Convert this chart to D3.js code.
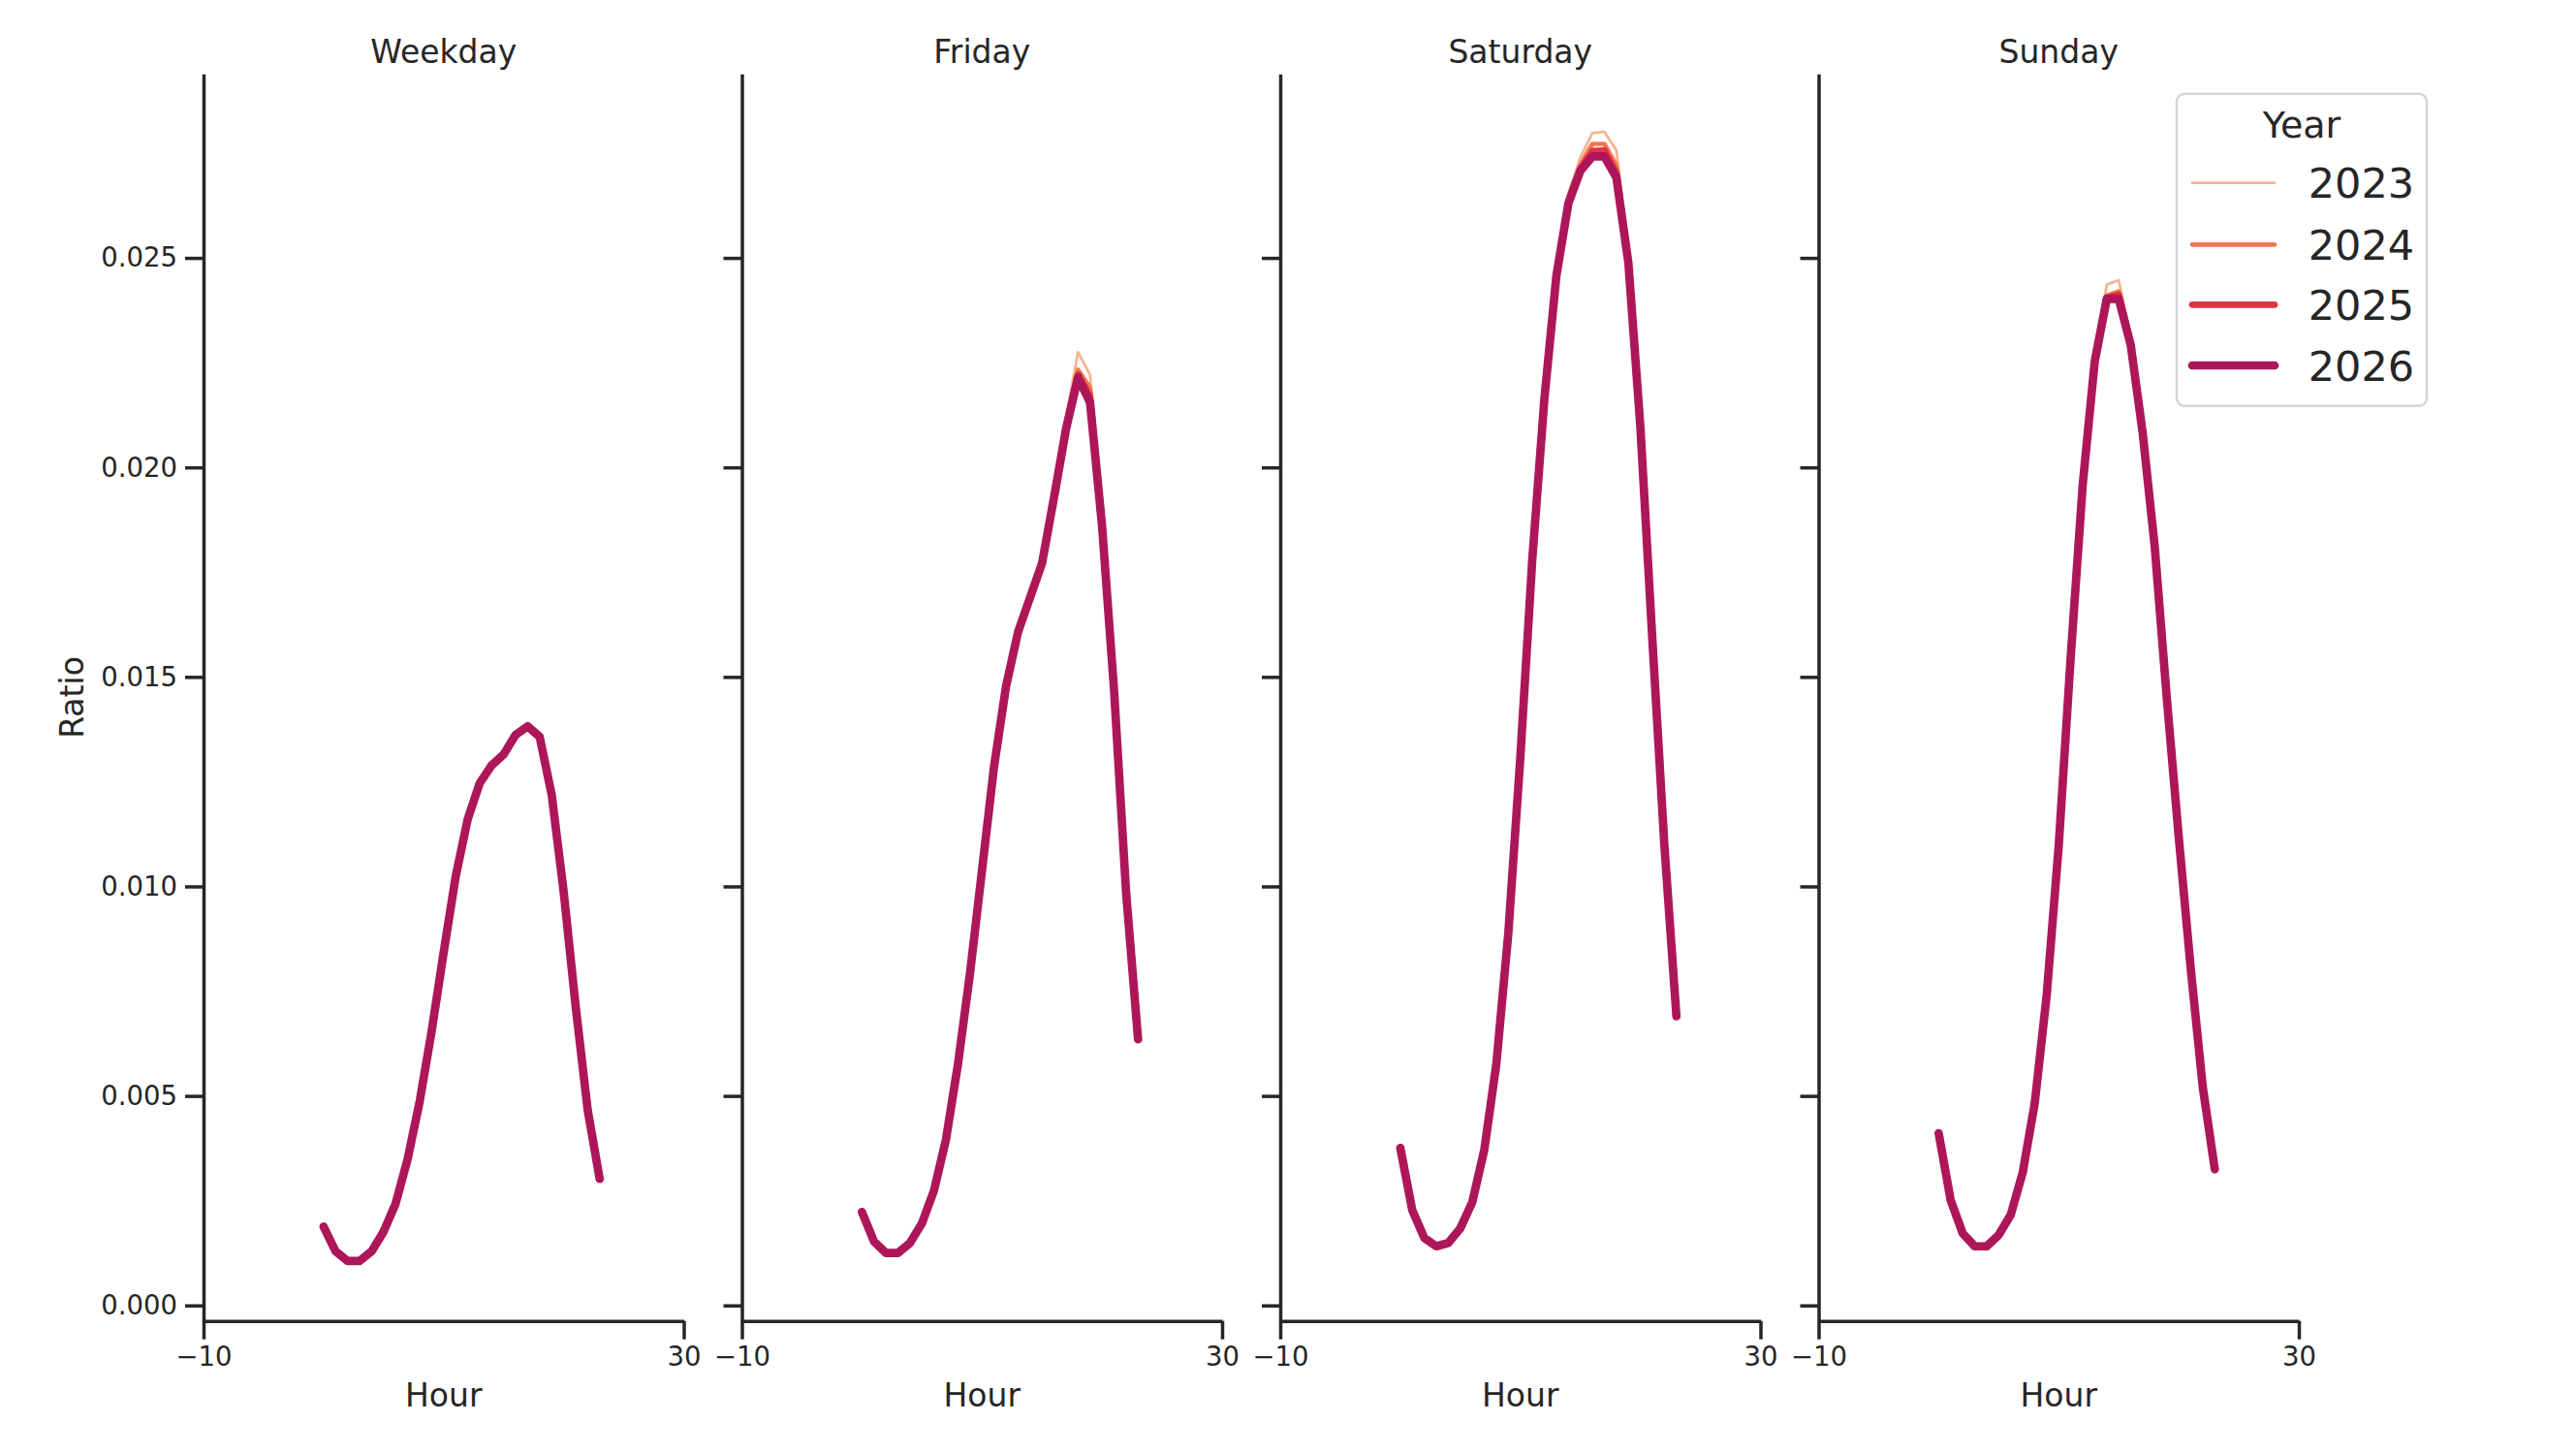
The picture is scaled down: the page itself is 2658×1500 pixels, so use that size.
<!DOCTYPE html>
<html>
<head>
<meta charset="utf-8">
<script src="https://cdn.jsdelivr.net/npm/d3@7"></script>
<style>
  body { margin: 0; background: #fff; }
  text { font-family: "DejaVu Sans", sans-serif; fill: #262626; }
</style>
</head>
<body>
<div id="chart"></div>
<script>
var hours = d3.range(0, 24);
var days = ['Weekday', 'Friday', 'Saturday', 'Sunday'];
var years = ['2023', '2024', '2025', '2026'];
var yTicks = [0, 0.005, 0.01, 0.015, 0.02, 0.025];
var xTicks = [-10, 30];

// ratio per hour, one array per day and year
var weekday2023 = [0.00189, 0.00130, 0.00107, 0.00106, 0.00129, 0.00176, 0.00244, 0.00350, 0.00487, 0.00655, 0.00843, 0.01024, 0.01162, 0.01248, 0.01291, 0.01318, 0.01366, 0.01389, 0.01362, 0.01222, 0.00989, 0.00714, 0.00467, 0.00302];
var weekday2024 = [0.00188, 0.00129, 0.00106, 0.00106, 0.00129, 0.00176, 0.00243, 0.00349, 0.00486, 0.00654, 0.00842, 0.01023, 0.01161, 0.01247, 0.01290, 0.01316, 0.01364, 0.01386, 0.01360, 0.01220, 0.00988, 0.00713, 0.00466, 0.00302];
var weekday2025 = [0.00188, 0.00129, 0.00106, 0.00106, 0.00129, 0.00176, 0.00243, 0.00349, 0.00486, 0.00654, 0.00842, 0.01023, 0.01160, 0.01246, 0.01289, 0.01315, 0.01363, 0.01384, 0.01358, 0.01219, 0.00987, 0.00713, 0.00466, 0.00302];
var weekday2026 = [0.00188, 0.00129, 0.00106, 0.00106, 0.00129, 0.00176, 0.00243, 0.00349, 0.00486, 0.00654, 0.00842, 0.01023, 0.01160, 0.01246, 0.01289, 0.01315, 0.01362, 0.01382, 0.01357, 0.01219, 0.00987, 0.00713, 0.00466, 0.00302];

var friday2023 = [0.00224, 0.00154, 0.00126, 0.00125, 0.00149, 0.00197, 0.00275, 0.00397, 0.00577, 0.00794, 0.01041, 0.01289, 0.01482, 0.01613, 0.01696, 0.01780, 0.01942, 0.02120, 0.02275, 0.02221, 0.01895, 0.01485, 0.00995, 0.00638];
var friday2024 = [0.00223, 0.00153, 0.00125, 0.00125, 0.00149, 0.00196, 0.00274, 0.00396, 0.00576, 0.00793, 0.01039, 0.01287, 0.01479, 0.01609, 0.01692, 0.01775, 0.01934, 0.02104, 0.02233, 0.02190, 0.01876, 0.01476, 0.00990, 0.00636];
var friday2025 = [0.00223, 0.00153, 0.00125, 0.00125, 0.00149, 0.00196, 0.00274, 0.00396, 0.00576, 0.00792, 0.01038, 0.01286, 0.01478, 0.01608, 0.01690, 0.01773, 0.01931, 0.02097, 0.02222, 0.02170, 0.01867, 0.01471, 0.00988, 0.00635];
var friday2026 = [0.00223, 0.00153, 0.00125, 0.00125, 0.00149, 0.00196, 0.00274, 0.00396, 0.00576, 0.00792, 0.01038, 0.01285, 0.01477, 0.01607, 0.01689, 0.01771, 0.01928, 0.02092, 0.02215, 0.02155, 0.01861, 0.01469, 0.00987, 0.00635];

var saturday2023 = [0.00377, 0.00228, 0.00162, 0.00141, 0.00149, 0.00185, 0.00248, 0.00373, 0.00578, 0.00893, 0.01316, 0.01795, 0.02180, 0.02475, 0.02655, 0.02740, 0.02798, 0.02801, 0.02757, 0.02510, 0.02110, 0.01595, 0.01101, 0.00692];
var saturday2024 = [0.00376, 0.00227, 0.00161, 0.00141, 0.00149, 0.00184, 0.00247, 0.00372, 0.00577, 0.00891, 0.01312, 0.01788, 0.02170, 0.02466, 0.02642, 0.02722, 0.02772, 0.02772, 0.02720, 0.02498, 0.02102, 0.01591, 0.01099, 0.00691];
var saturday2025 = [0.00376, 0.00227, 0.00161, 0.00141, 0.00149, 0.00184, 0.00247, 0.00372, 0.00576, 0.00890, 0.01310, 0.01785, 0.02166, 0.02461, 0.02635, 0.02712, 0.02755, 0.02757, 0.02703, 0.02492, 0.02098, 0.01589, 0.01098, 0.00690];
var saturday2026 = [0.00376, 0.00227, 0.00161, 0.00141, 0.00149, 0.00184, 0.00247, 0.00372, 0.00576, 0.00889, 0.01309, 0.01783, 0.02163, 0.02457, 0.02630, 0.02708, 0.02742, 0.02742, 0.02692, 0.02488, 0.02096, 0.01587, 0.01097, 0.00690];

var sunday2023 = [0.00412, 0.00252, 0.00173, 0.00142, 0.00141, 0.00168, 0.00217, 0.00318, 0.00484, 0.00744, 0.01102, 0.01556, 0.01972, 0.02270, 0.02436, 0.02447, 0.02312, 0.02092, 0.01816, 0.01454, 0.01120, 0.00805, 0.00522, 0.00326];
var sunday2024 = [0.00411, 0.00251, 0.00172, 0.00141, 0.00141, 0.00168, 0.00216, 0.00317, 0.00483, 0.00742, 0.01099, 0.01551, 0.01964, 0.02260, 0.02410, 0.02420, 0.02300, 0.02085, 0.01812, 0.01452, 0.01118, 0.00804, 0.00521, 0.00325];
var sunday2025 = [0.00411, 0.00251, 0.00172, 0.00141, 0.00141, 0.00168, 0.00216, 0.00317, 0.00482, 0.00741, 0.01098, 0.01549, 0.01961, 0.02256, 0.02405, 0.02412, 0.02296, 0.02083, 0.01811, 0.01451, 0.01117, 0.00803, 0.00521, 0.00325];
var sunday2026 = [0.00411, 0.00251, 0.00172, 0.00141, 0.00141, 0.00168, 0.00216, 0.00317, 0.00482, 0.00741, 0.01097, 0.01548, 0.01959, 0.02253, 0.02402, 0.02402, 0.02292, 0.02081, 0.01810, 0.01450, 0.01117, 0.00803, 0.00521, 0.00325];

var series = {
  Weekday: [weekday2023, weekday2024, weekday2025, weekday2026],
  Friday: [friday2023, friday2024, friday2025, friday2026],
  Saturday: [saturday2023, saturday2024, saturday2025, saturday2026],
  Sunday: [sunday2023, sunday2024, sunday2025, sunday2026]
};

var colors = ['#f6b48f', '#f37651', '#e13342', '#ad1759'];
var widths = [2.7, 4.7, 6.7, 8.7];
var ink = '#262626';

var W = 2658, H = 1500;
var panelLeft = 210, panelW = 495.5, panelStep = 555.5;
var plotTop = 76.3, plotBottom = 1362.7;

var svg = d3.select('#chart')
    .append('svg')
      .attr('width', W)
      .attr('height', H)
      .attr('viewBox', '0 0 ' + W + ' ' + H);

var y = d3.scaleLinear()
    .domain([-0.00037, 0.02939])
    .range([plotBottom, plotTop]);

var x = d3.scaleLinear()
    .domain([-10, 30])
    .range([0, panelW]);

var line = d3.line()
    .x(function(d) { return x(d[0]); })
    .y(function(d) { return y(d[1]); });

days.forEach(function(day, i) {
  var g = svg.append('g')
      .attr('transform', 'translate(' + (panelLeft + i * panelStep) + ',0)');

  series[day].forEach(function(vals, k) {
    g.append('path')
        .datum(hours.map(function(h, j) { return [h, vals[j]]; }))
        .attr('d', line)
        .attr('fill', 'none')
        .attr('stroke', colors[k])
        .attr('stroke-width', widths[k])
        .attr('stroke-linejoin', 'round')
        .attr('stroke-linecap', 'round');
  });

  var yAxis = d3.axisLeft(y)
      .tickValues(yTicks)
      .tickSizeInner(19)
      .tickSizeOuter(0)
      .tickPadding(8)
      .tickFormat(i === 0 ? d3.format('.3f') : '');
  var ya = g.append('g').call(yAxis);

  var xAxis = d3.axisBottom(x)
      .tickValues(xTicks)
      .tickSizeInner(19)
      .tickSizeOuter(0)
      .tickPadding(8)
      .tickFormat(d3.format('d'));
  var xa = g.append('g')
      .attr('transform', 'translate(0,' + plotBottom + ')')
      .call(xAxis);

  [ya, xa].forEach(function(a) {
    a.select('.domain').attr('stroke', ink).attr('stroke-width', 3.5);
    a.selectAll('.tick line').attr('stroke', ink).attr('stroke-width', 3.5);
    a.selectAll('.tick text')
        .attr('fill', ink)
        .style('font-size', '27.5px')
        .style('font-family', '"DejaVu Sans", sans-serif');
  });

  g.append('text')
      .attr('x', panelW / 2)
      .attr('y', 65)
      .attr('text-anchor', 'middle')
      .style('font-size', '33px')
      .text(day);

  g.append('text')
      .attr('x', panelW / 2)
      .attr('y', 1451)
      .attr('text-anchor', 'middle')
      .style('font-size', '33px')
      .text('Hour');
});

svg.append('text')
    .attr('transform', 'translate(86,' + ((plotTop + plotBottom) / 2) + ') rotate(-90)')
    .attr('text-anchor', 'middle')
    .style('font-size', '33px')
    .text('Ratio');

// legend
var legend = svg.append('g');
legend.append('rect')
    .attr('x', 2246)
    .attr('y', 96.7)
    .attr('width', 258)
    .attr('height', 322)
    .attr('rx', 8)
    .attr('fill', '#fff')
    .attr('fill-opacity', 0.8)
    .attr('stroke', '#d6d6d6')
    .attr('stroke-width', 2.5);
legend.append('text')
    .attr('x', 2375)
    .attr('y', 141.7)
    .attr('text-anchor', 'middle')
    .style('font-size', '38px')
    .text('Year');

var rowY = [188.7, 252.3, 314.3, 377];
years.forEach(function(yr, k) {
  legend.append('line')
      .attr('x1', 2262)
      .attr('x2', 2347)
      .attr('y1', rowY[k])
      .attr('y2', rowY[k])
      .attr('stroke', colors[k])
      .attr('stroke-width', widths[k])
      .attr('stroke-linecap', 'round');
  legend.append('text')
      .attr('x', 2381.7)
      .attr('y', rowY[k] + 15.7)
      .style('font-size', '43px')
      .text(yr);
});
</script>
</body>
</html>
